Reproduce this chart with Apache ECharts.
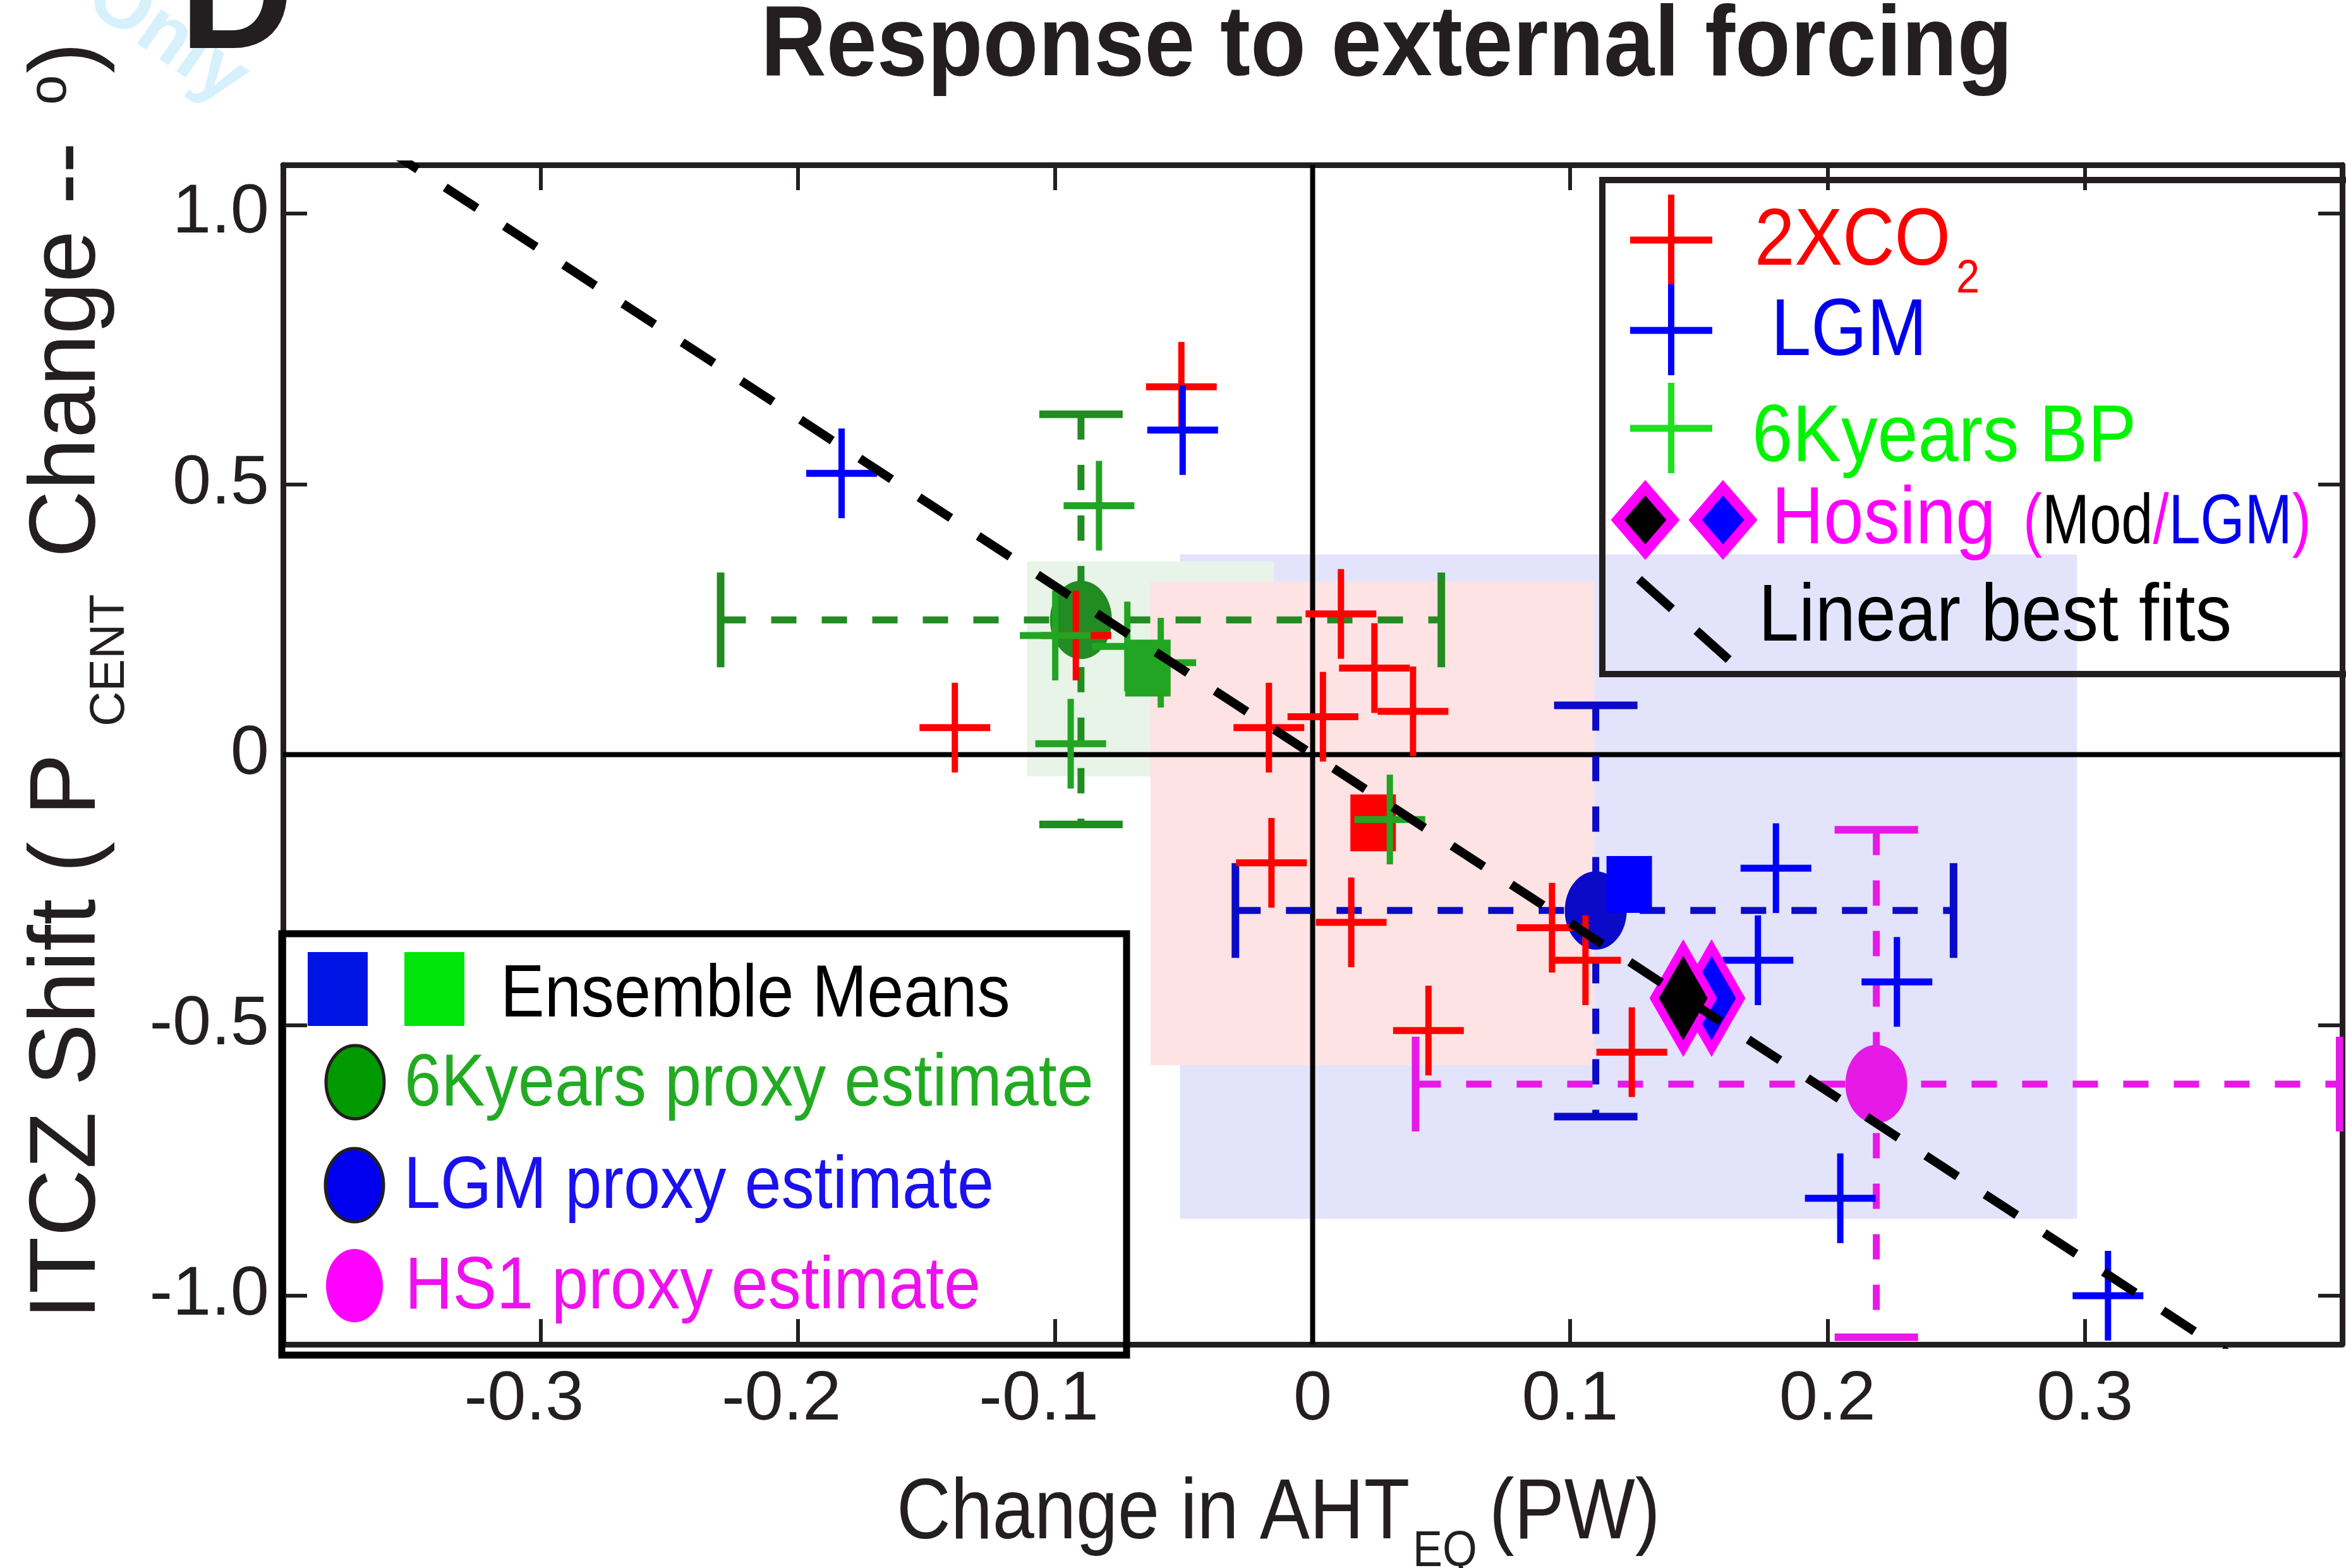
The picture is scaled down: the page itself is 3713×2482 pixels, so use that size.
<!DOCTYPE html>
<html>
<head>
<meta charset="utf-8">
<script src="https://cdn.jsdelivr.net/npm/echarts@6/dist/echarts.min.js"></script>
<style>
  html, body { margin: 0; padding: 0; background: #ffffff; }
  #chart { width: 3713px; height: 2482px; }
</style>
</head>
<body>
<div id="chart"></div>
<script>
// ---- data -------------------------------------------------------------
// 2xCO2 model members: change in AHT_EQ (PW) vs ITCZ shift (deg)
const co2X = [-0.139, -0.051, -0.092, 0.011, 0.024, 0.039, 0.004, -0.017, -0.016, 0.015, 0.045, 0.093, 0.106, 0.124];
const co2Y = [0.05, 0.68, 0.22, 0.26, 0.16, 0.08, 0.07, 0.05, -0.20, -0.31, -0.51, -0.32, -0.38, -0.55];
// LGM model members
const lgmX = [-0.183, -0.0505, 0.180, 0.173, 0.227, 0.205, 0.309];
const lgmY = [0.52, 0.60, -0.21, -0.38, -0.42, -0.82, -1.00];
// 6K years BP model members
const midX = [-0.083, -0.100, -0.072, -0.059, -0.094, 0.030];
const midY = [0.46, 0.22, 0.20, 0.17, 0.02, -0.12];
// ensemble means (2XCO2, 6K, LGM)
const meanNames = ['2XCO2', '6K', 'LGM'];
const meanX = [0.0235, -0.064, 0.123];
const meanY = [-0.126, 0.16, -0.24];
// hosing experiments (LGM base state, modern base state)
const hosingNames = ['LGM', 'Mod'];
const hosingX = [0.155, 0.144];
const hosingY = [-0.45, -0.45];
// proxy estimates with their ranges
const proxyNames = ['6K', 'LGM', 'HS1'];
const proxyX = [-0.090, 0.110, 0.219];
const proxyY = [0.249, -0.288, -0.609];
const proxyXLo = [-0.230, -0.030, 0.040];
const proxyXHi = [0.050, 0.249, 0.399];
const proxyYLo = [-0.129, -0.669, -1.077];
const proxyYHi = [0.629, 0.091, -0.139];
// model spread boxes
const rangeNames = ['LGM', '6K', '2XCO2'];
const rangeXLo = [-0.0515, -0.111, -0.063];
const rangeXHi = [0.297, -0.015, 0.1095];
const rangeYLo = [-0.858, -0.040, -0.574];
const rangeYHi = [0.370, 0.357, 0.320];
// linear best fit (end points)
const fitX = [-0.36, 0.36];
const fitY = [1.12, -1.12];
// axis ticks
const xTicks = [-0.3, -0.2, -0.1, 0, 0.1, 0.2, 0.3];
const yTicks = [-1, -0.5, 0, 0.5, 1];

// ---- styling ------------------------------------------------------------
const SANS = "'Liberation Sans', Arial, Helvetica, sans-serif";
const INK = '#231f20';
const rangeColors = ['#e3e3fc', '#e8f4e8', '#fde3e3'];
const meanColors = ['#ff0000', '#22a522', '#0000ff'];
const hosingFill = ['#0000ff', '#000000'];
const proxyColors = ['#228b22', '#0a0ac8', '#e619e6'];
const MAGENTA = '#ff00ff';
const TICK_SIZE = 110;

const fmt = v => (Math.abs(v) < 1e-9 ? '0' : v.toFixed(1));
// negative x labels sit a little left of their tick
const fmtX = v => (v < -1e-9 ? '{neg|' + fmt(v) + '}' : fmt(v));

function crossSeries(name, xs, ys, color, z) {
  return {
    type: 'custom', name: name, z: z, silent: true,
    data: xs.map((x, i) => [x, ys[i]]),
    renderItem: function (params, api) {
      const p = api.coord([api.value(0), api.value(1)]);
      return {
        type: 'group',
        children: [
          { type: 'line', shape: { x1: p[0] - 56, y1: p[1], x2: p[0] + 56, y2: p[1] }, style: { stroke: color, lineWidth: 11 } },
          { type: 'line', shape: { x1: p[0], y1: p[1] - 71, x2: p[0], y2: p[1] + 71 }, style: { stroke: color, lineWidth: 10 } }
        ]
      };
    }
  };
}

// ---- helpers for free text ------------------------------------------------
const MID = 0.29; // offset (em) from the text's vertical middle down to its baseline
function hText(text, x, base, size, color, sx, weight, extra) {
  return {
    type: 'text', x: x, y: base - MID * size, scaleX: sx || 1, z: 100, silent: true,
    style: Object.assign({
      text: text, fill: color, fontSize: size, fontFamily: SANS,
      fontWeight: weight || 'normal', align: 'left', verticalAlign: 'middle'
    }, extra || {})
  };
}
function vText(text, baseX, startY, size, color) {
  return {
    type: 'text', x: baseX - MID * size, y: startY, rotation: Math.PI / 2, z: 100, silent: true,
    style: { text: text, fill: color, fontSize: size, fontFamily: SANS, align: 'left', verticalAlign: 'middle' }
  };
}
function gLine(x1, y1, x2, y2, color, w, dash) {
  const st = { stroke: color, lineWidth: w };
  if (dash) st.lineDash = dash;
  return { type: 'line', z: 100, silent: true, shape: { x1: x1, y1: y1, x2: x2, y2: y2 }, style: st };
}
function diamond(cx, cy, hw, hh, fill, lw) {
  return {
    type: 'polygon', z: 100, silent: true,
    shape: { points: [[cx, cy - hh], [cx + hw, cy], [cx, cy + hh], [cx - hw, cy]] },
    style: { fill: fill, stroke: MAGENTA, lineWidth: lw, lineJoin: 'miter' }
  };
}

const graphics = [
  // panel letter and watermark
  { type: 'text', x: 150, y: -20, rotation: -0.61, z: 1, silent: true,
    style: { text: 'Only', fill: '#d6f0fc', fontSize: 125, fontWeight: 'bold', fontFamily: SANS,
      align: 'left', verticalAlign: 'middle' } },
  hText('D', 284, 80, 250, INK, 1, 'bold'),
  // title
  hText('Response to external forcing', 1204, 121, 158, INK, 0.91, 'bold'),
  // x axis title
  hText('Change in AHT', 1419, 2437, 135, INK, 0.88),
  hText('EQ', 2236, 2480, 80, INK, 0.88),
  hText('(PW)', 2357, 2437, 135, INK, 0.88),
  // y axis title
  vText('ITCZ Shift ( P', 152, 2089, 148, INK),
  vText('CENT', 197, 1150, 77, INK),
  vText('Change --', 152, 883, 148, INK),
  vText('o', 105, 166, 85, INK),
  vText(')', 152, 116, 148, INK),

  // ---- legend: experiments ----
  { type: 'rect', z: 100, silent: true, shape: { x: 2536, y: 285, width: 1300, height: 782 },
    style: { fill: 'none', stroke: INK, lineWidth: 10 } },
  gLine(2645, 308, 2645, 450, '#ff0000', 10),
  gLine(2580, 380, 2710, 380, '#ff0000', 11),
  gLine(2645, 450, 2645, 594, '#0000ff', 10),
  gLine(2580, 523, 2710, 523, '#0000ff', 11),
  gLine(2645, 606, 2645, 749, '#1fdf1f', 10),
  gLine(2580, 678, 2710, 678, '#1fdf1f', 11),
  hText('2XCO', 2777, 421, 128, '#ff0000', 0.89),
  hText('2', 3096, 464, 75, '#ff0000', 0.89),
  hText('LGM', 2803, 564, 128, '#0000ee', 0.89),
  hText('6Kyears BP', 2773, 732, 128, '#00f400', 0.9),
  diamond(2604, 823, 44, 51, '#000000', 16),
  diamond(2727, 823, 44, 51, '#0000ff', 16),
  hText('Hosing', 2804, 862, 128, MAGENTA, 0.89),
  hText('{p|(}{k|Mod}{p|/}{b|LGM}{p|)}', 3202, 862, 112, INK, 0.805, 'normal', {
    rich: {
      p: { fill: MAGENTA, fontSize: 112, fontFamily: SANS },
      k: { fill: '#000000', fontSize: 112, fontFamily: SANS },
      b: { fill: '#0000ee', fontSize: 112, fontFamily: SANS }
    }
  }),
  gLine(2594, 917, 2736, 1044, '#000000', 14, [70, 52]),
  hText('Linear best fits', 2783, 1016, 128, '#000000', 0.9),

  // ---- legend: ensemble means and proxies ----
  { type: 'rect', z: 100, silent: true, shape: { x: 446, y: 1478, width: 1337, height: 667 },
    style: { fill: 'none', stroke: '#000000', lineWidth: 11 } },
  { type: 'rect', z: 100, silent: true, shape: { x: 487, y: 1507, width: 95, height: 117 }, style: { fill: '#0014e6' } },
  { type: 'rect', z: 100, silent: true, shape: { x: 640, y: 1507, width: 95, height: 117 }, style: { fill: '#00e60a' } },
  hText('Ensemble Means', 792, 1611, 116, '#000000', 0.9),
  { type: 'ellipse', z: 100, silent: true, shape: { cx: 562, cy: 1713, rx: 46, ry: 58 },
    style: { fill: '#009900', stroke: INK, lineWidth: 5 } },
  hText('6Kyears proxy estimate', 640, 1752, 116, '#22ab22', 0.9),
  { type: 'ellipse', z: 100, silent: true, shape: { cx: 561, cy: 1876, rx: 46, ry: 58 },
    style: { fill: '#0000ee', stroke: INK, lineWidth: 5 } },
  hText('LGM proxy estimate', 639, 1914, 116, '#1a10f0', 0.9),
  { type: 'ellipse', z: 100, silent: true, shape: { cx: 561, cy: 2035, rx: 45, ry: 58 },
    style: { fill: MAGENTA } },
  hText('HS1 proxy estimate', 641, 2073, 116, '#ee11ee', 0.9)
];

// ---- chart -----------------------------------------------------------------
const chart = echarts.init(document.getElementById('chart'), null, { renderer: 'canvas' });

const axisLineStyle = { show: true, onZero: false, lineStyle: { color: INK, width: 9 } };

const option = {
  backgroundColor: '#ffffff',
  animation: false,
  grid: { left: 448, top: 261, right: 6, bottom: 354, containLabel: false, outerBoundsMode: 'none' },
  xAxis: [
    {
      type: 'value', min: -0.4, max: 0.4, interval: 0.1, position: 'bottom',
      axisLine: axisLineStyle,
      axisTick: { show: true, inside: true, length: 40, customValues: xTicks, lineStyle: { color: INK, width: 6 } },
      axisLabel: { show: true, customValues: xTicks, formatter: fmtX, margin: 34,
        fontSize: TICK_SIZE, fontFamily: SANS, color: INK,
        rich: { neg: { fontSize: TICK_SIZE, fontFamily: SANS, color: INK, padding: [0, 52, 0, 0] } } },
      splitLine: { show: false }
    },
    {
      type: 'value', min: -0.4, max: 0.4, interval: 0.1, position: 'top',
      axisLine: axisLineStyle,
      axisTick: { show: true, inside: true, length: 40, customValues: xTicks, lineStyle: { color: INK, width: 6 } },
      axisLabel: { show: false },
      splitLine: { show: false }
    }
  ],
  yAxis: [
    {
      type: 'value', min: -1.09, max: 1.09, position: 'left',
      axisLine: axisLineStyle,
      axisTick: { show: true, inside: true, length: 38, customValues: yTicks, lineStyle: { color: INK, width: 6 } },
      axisLabel: { show: true, customValues: yTicks, formatter: fmt, margin: 22, padding: [24, 0, 0, 0],
        fontSize: TICK_SIZE, fontFamily: SANS, color: INK },
      splitLine: { show: false }
    },
    {
      type: 'value', min: -1.09, max: 1.09, position: 'right',
      axisLine: axisLineStyle,
      axisTick: { show: true, inside: true, length: 38, customValues: yTicks, lineStyle: { color: INK, width: 6 } },
      axisLabel: { show: false },
      splitLine: { show: false }
    }
  ],
  series: [
    // model spread boxes
    {
      type: 'custom', name: 'ranges', z: 1, silent: true,
      data: rangeXLo.map((v, i) => [v, rangeXHi[i], rangeYLo[i], rangeYHi[i]]),
      renderItem: function (params, api) {
        const a = api.coord([api.value(0), api.value(3)]);
        const b = api.coord([api.value(1), api.value(2)]);
        return { type: 'rect', shape: { x: a[0], y: a[1], width: b[0] - a[0], height: b[1] - a[1] },
          style: { fill: rangeColors[params.dataIndex] } };
      }
    },
    // zero lines
    { type: 'line', name: 'zeroX', z: 2, silent: true, symbol: 'none',
      data: [[0, -1.09], [0, 1.09]], lineStyle: { color: '#000000', width: 8 } },
    { type: 'line', name: 'zeroY', z: 2, silent: true, symbol: 'none',
      data: [[-0.4, 0], [0.4, 0]], lineStyle: { color: '#000000', width: 8 } },
    // proxy ranges
    {
      type: 'custom', name: 'proxyRanges', z: 3, silent: true,
      data: proxyX.map((x, i) => [x, proxyY[i], proxyXLo[i], proxyXHi[i], proxyYLo[i], proxyYHi[i]]),
      renderItem: function (params, api) {
        const col = proxyColors[params.dataIndex];
        const c = api.coord([api.value(0), api.value(1)]);
        const xl = api.coord([api.value(2), api.value(1)])[0];
        const xh = api.coord([api.value(3), api.value(1)])[0];
        const yl = api.coord([api.value(0), api.value(4)])[1];
        const yh = api.coord([api.value(0), api.value(5)])[1];
        const dash = { stroke: col, lineWidth: 11, lineDash: [40, 40] };
        const solid = { stroke: col, lineWidth: 12 };
        return {
          type: 'group',
          children: [
            { type: 'line', shape: { x1: xl, y1: c[1], x2: xh, y2: c[1] }, style: dash },
            { type: 'line', shape: { x1: c[0], y1: yh, x2: c[0], y2: yl }, style: dash },
            { type: 'line', shape: { x1: xl, y1: c[1] - 75, x2: xl, y2: c[1] + 75 }, style: solid },
            { type: 'line', shape: { x1: xh, y1: c[1] - 75, x2: xh, y2: c[1] + 75 }, style: solid },
            { type: 'line', shape: { x1: c[0] - 66, y1: yh, x2: c[0] + 66, y2: yh }, style: solid },
            { type: 'line', shape: { x1: c[0] - 66, y1: yl, x2: c[0] + 66, y2: yl }, style: solid }
          ]
        };
      }
    },
    // proxy estimates
    {
      type: 'custom', name: 'proxies', z: 4, silent: true,
      data: proxyX.map((x, i) => [x, proxyY[i]]),
      renderItem: function (params, api) {
        const c = api.coord([api.value(0), api.value(1)]);
        return { type: 'ellipse', shape: { cx: c[0], cy: c[1], rx: 49, ry: 62 },
          style: { fill: proxyColors[params.dataIndex] } };
      }
    },
    crossSeries('2XCO2', co2X, co2Y, '#ff0000', 5),
    // ensemble means
    {
      type: 'custom', name: 'ensembleMeans', z: 6, silent: true,
      data: meanX.map((x, i) => [x, meanY[i]]),
      renderItem: function (params, api) {
        const c = api.coord([api.value(0), api.value(1)]);
        return { type: 'rect', shape: { x: c[0] - 36, y: c[1] - 45, width: 72, height: 90 },
          style: { fill: meanColors[params.dataIndex] } };
      }
    },
    crossSeries('LGM', lgmX, lgmY, '#0000ff', 7),
    crossSeries('6K', midX, midY, '#22a522', 8),
    // hosing
    {
      type: 'custom', name: 'hosing', z: 9, silent: true,
      data: hosingX.map((x, i) => [x, hosingY[i]]),
      renderItem: function (params, api) {
        const c = api.coord([api.value(0), api.value(1)]);
        return {
          type: 'polygon',
          shape: { points: [[c[0], c[1] - 80], [c[0] + 46, c[1]], [c[0], c[1] + 80], [c[0] - 46, c[1]]] },
          style: { fill: hosingFill[params.dataIndex], stroke: MAGENTA, lineWidth: 13, lineJoin: 'miter' }
        };
      }
    },
    // linear best fit
    { type: 'line', name: 'fit', z: 10, silent: true, symbol: 'none', clip: true,
      data: fitX.map((x, i) => [x, fitY[i]]),
      lineStyle: { color: '#000000', width: 14, type: [60, 52] } }
  ],
  graphic: graphics
};

chart.setOption(option);
</script>
</body>
</html>
